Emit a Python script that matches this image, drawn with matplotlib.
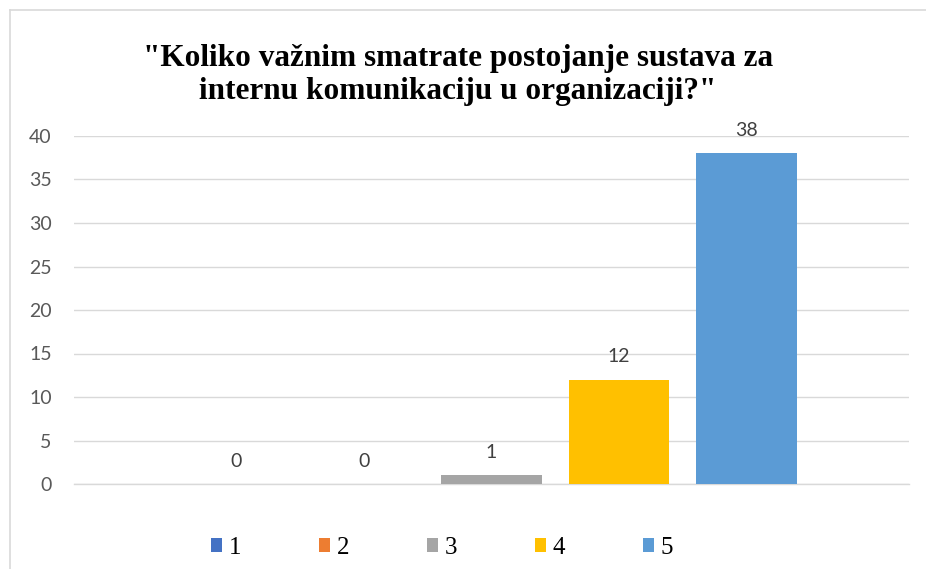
import matplotlib
matplotlib.use("Agg")
import matplotlib.pyplot as plt
from matplotlib.lines import Line2D

title = '"Koliko važnim smatrate postojanje sustava za\ninternu komunikaciju u organizaciji?"'
series_names = ["1", "2", "3", "4", "5"]
values = [0, 0, 1, 12, 38]
colors = ["#4472C4", "#ED7D31", "#A5A5A5", "#FFC000", "#5B9BD5"]
yticks = [0, 5, 10, 15, 20, 25, 30, 35, 40]

W, H = 926, 569
fig = plt.figure(figsize=(W / 100, H / 100), dpi=100)
fig.patch.set_facecolor("white")

# plot area in pixels: x 74..909, y 136..484
ax = fig.add_axes([74 / W, (H - 484) / H, (909 - 74) / W, (484 - 136) / H])

positions = list(range(len(values)))
bars = []
for pos, v, c, name in zip(positions, values, colors, series_names):
    b = ax.bar(pos, v, width=0.79, color=c, label=name, zorder=3)
    bars.append(b)
    ax.annotate(str(v), xy=(pos, v), xytext=(0, 12.5), textcoords="offset points",
                ha="center", va="baseline", fontsize=14, color="#404040",
                family=["Lato", "DejaVu Sans"])

ax.set_xlim(-1.275, 5.275)
ax.set_ylim(0, 40)
ax.set_yticks(yticks)
ax.set_xticks([])
ax.yaxis.grid(True, color="#D9D9D9", linewidth=1.0, zorder=0)
ax.set_axisbelow(True)
for s in ["top", "right", "left"]:
    ax.spines[s].set_visible(False)
ax.spines["bottom"].set_color("#D9D9D9")
ax.spines["bottom"].set_linewidth(1.0)
ax.tick_params(axis="y", length=0, pad=16, labelsize=14, labelcolor="#595959")
for lab in ax.get_yticklabels():
    lab.set_family(["Lato", "DejaVu Sans"])

fig.text(458 / W, 1 - 75 / H, title, ha="center", va="center",
         fontsize=22.5, fontweight="bold", family=["Liberation Serif", "DejaVu Serif"],
         linespacing=1.2, color="black")

leg = fig.legend(handles=[b for b in bars], labels=series_names, loc="center",
                 bbox_to_anchor=(442 / W, 1 - 548 / H), ncol=5, frameon=False,
                 prop={"family": ["Liberation Serif", "DejaVu Serif"], "size": 18},
                 handlelength=0.45, handleheight=0.45, handletextpad=0.25,
                 columnspacing=3.12)

# chart frame (top and left edges visible)
fig.add_artist(Line2D([10 / W, 1.0], [1 - 10 / H, 1 - 10 / H], color="#D9D9D9", linewidth=1.2,
                      transform=fig.transFigure))
fig.add_artist(Line2D([10 / W, 10 / W], [0.0, 1 - 10 / H], color="#D9D9D9", linewidth=1.2,
                      transform=fig.transFigure))

fig.savefig("out.png", dpi=100, facecolor="white")
